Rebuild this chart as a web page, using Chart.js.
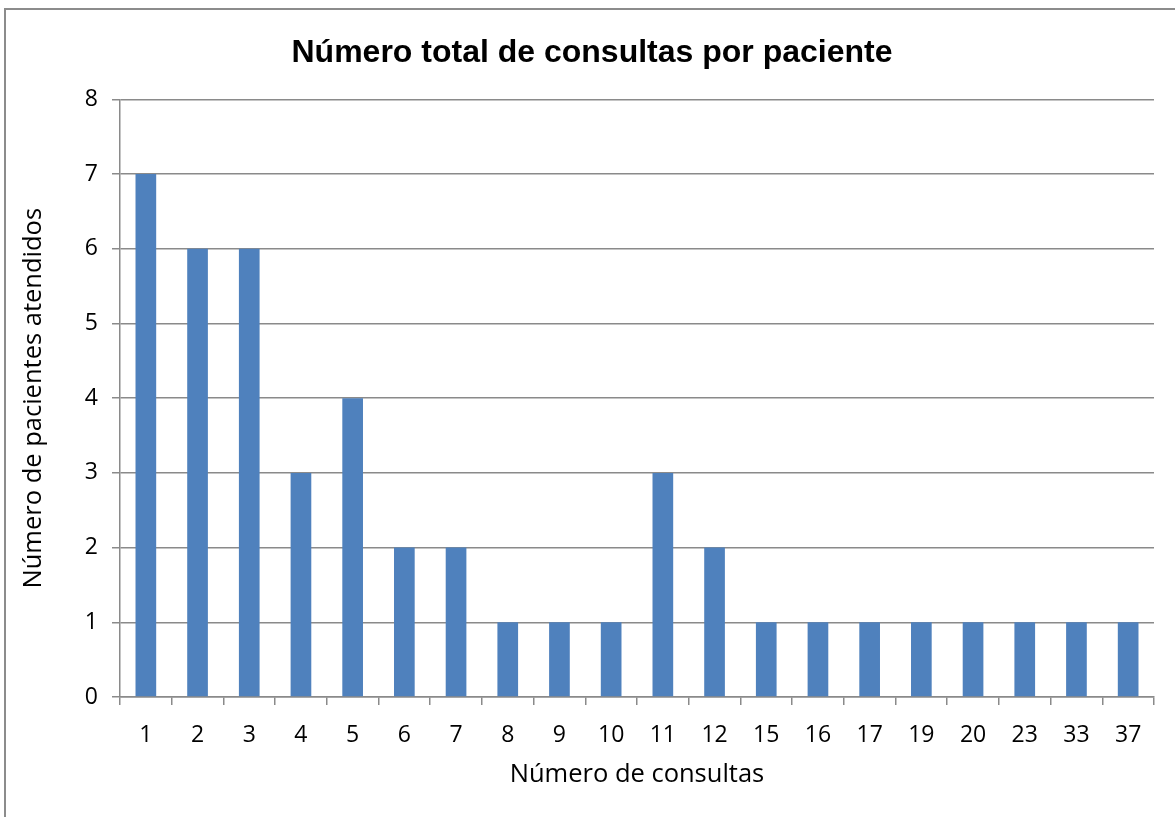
<!DOCTYPE html>
<html>
<head>
<meta charset="utf-8">
<script src="https://cdn.jsdelivr.net/npm/chart.js@4"></script>
<style>
  html, body { margin: 0; padding: 0; background: #fff; overflow: hidden; }
  #frame {
    position: absolute; left: 4px; top: 8px; width: 1220px; height: 900px;
    border: 2px solid #8c8c8c; box-sizing: border-box;
  }
  #wrap { position: absolute; left: 0; top: 0; width: 1175px; height: 817px; }
</style>
</head>
<body>
<div id="frame"></div>
<div id="wrap"><canvas id="chart"></canvas></div>
<script>
// Número de consultas (categorías del eje X)
var consultas = ['1', '2', '3', '4', '5', '6', '7', '8', '9', '10', '11', '12', '15', '16', '17', '19', '20', '23', '33', '37'];
// Número de pacientes atendidos por categoría
var pacientes = [7, 6, 6, 3, 4, 2, 2, 1, 1, 1, 3, 2, 1, 1, 1, 1, 1, 1, 1, 1];
var yTicks = [0, 1, 2, 3, 4, 5, 6, 7, 8];

var tituloGrafico = 'Número total de consultas por paciente';
var tituloX = 'Número de consultas';
var tituloY = 'Número de pacientes atendidos';

var bodyFont = 'Open Sans';
var gridColor = '#8a8a8a';

var ctx = document.getElementById('chart').getContext('2d');
new Chart(ctx, {
  type: 'bar',
  data: {
    labels: consultas,
    datasets: [{
      label: tituloY,
      data: pacientes,
      backgroundColor: '#4f81bd',
      borderWidth: 0,
      barPercentage: 0.4,
      categoryPercentage: 1.0
    }]
  },
  options: {
    responsive: true,
    maintainAspectRatio: false,
    animation: false,
    layout: { padding: { left: 30, right: 21, top: 0, bottom: 0 } },
    plugins: {
      legend: { display: false },
      tooltip: { enabled: false },
      title: {
        display: true,
        text: tituloGrafico,
        color: '#000',
        font: { family: 'Liberation Sans', size: 32, weight: 'bold', lineHeight: 1.2 },
        padding: { top: 34, bottom: 27 }
      }
    },
    scales: {
      x: {
        offset: true,
        grid: {
          offset: true,
          drawOnChartArea: false,
          drawTicks: true,
          tickLength: 8,
          color: gridColor,
          lineWidth: 1.5
        },
        border: { display: true, color: gridColor, width: 1.5 },
        ticks: {
          color: '#000',
          padding: 17,
          maxRotation: 0,
          autoSkip: false,
          font: { family: bodyFont, size: 23 }
        },
        title: {
          display: true,
          text: tituloX,
          color: '#000',
          font: { family: bodyFont, size: 25.5, lineHeight: 1.2 },
          padding: { top: 0, bottom: 27 }
        },
        afterFit: function(scale) { scale.height = 120; }
      },
      y: {
        min: 0,
        max: 8,
        afterBuildTicks: function(scale) {
          scale.ticks = yTicks.map(function(v) { return { value: v }; });
        },
        grid: {
          color: gridColor,
          lineWidth: 1.5,
          drawTicks: true,
          tickLength: 8
        },
        border: { display: true, color: gridColor, width: 1.5 },
        ticks: {
          color: '#000',
          padding: 14,
          font: { family: bodyFont, size: 23 }
        },
        title: {
          display: true,
          text: tituloY,
          color: '#000',
          font: { family: bodyFont, size: 25.5, lineHeight: 1 },
          padding: { top: -9, bottom: 0 }
        },
        afterFit: function(scale) { scale.width = 90; }
      }
    }
  }
});
</script>
</body>
</html>
